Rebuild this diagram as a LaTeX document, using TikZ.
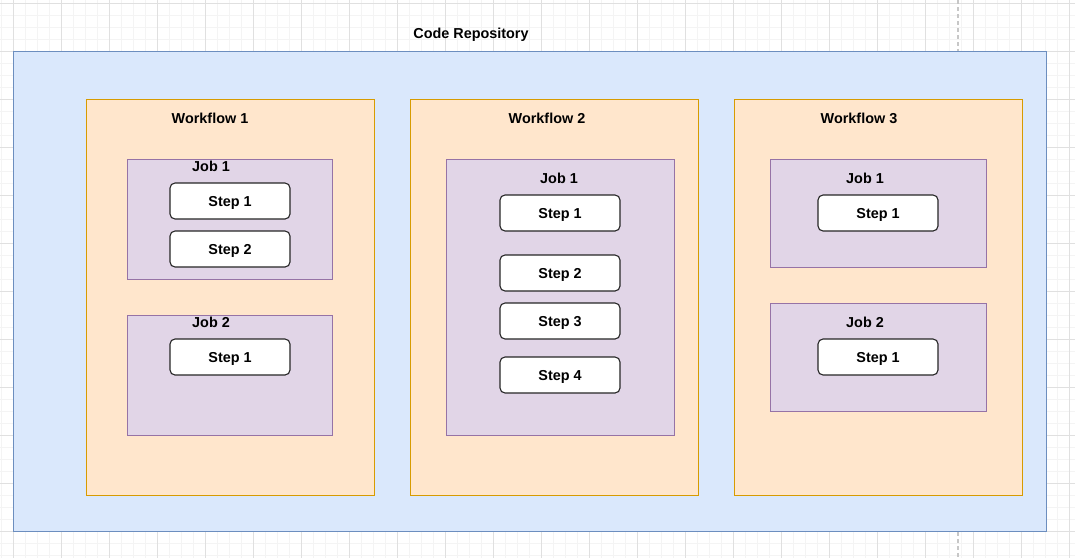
\documentclass[tikz,border=0pt]{standalone}
\usepackage{fontspec}
\setmainfont{Liberation Sans}

\definecolor{repofill}{HTML}{DAE8FC}
\definecolor{repoline}{HTML}{6C8EBF}
\definecolor{wffill}{HTML}{FFE6CC}
\definecolor{wfline}{HTML}{D79B00}
\definecolor{jobfill}{HTML}{E1D5E7}
\definecolor{jobline}{HTML}{9673A6}
\definecolor{gridminor}{HTML}{F4F4F4}
\definecolor{gridmajor}{HTML}{E0E0E0}

\tikzset{
  repobox/.style={draw=repoline, fill=repofill, line width=1pt, anchor=north west, inner sep=0pt},
  wfbox/.style={draw=wfline, fill=wffill, line width=1pt, anchor=north west, inner sep=0pt,
    minimum width=288, minimum height=396},
  jobbox/.style={draw=jobline, fill=jobfill, line width=1pt, anchor=north west, inner sep=0pt},
  stepbox/.style={draw=black!85, fill=white, line width=1.1pt, rounded corners=5pt,
    minimum width=120, minimum height=36, inner sep=0pt, text depth=0pt,
    font=\fontsize{14.4}{17}\selectfont\bfseries},
  title/.style={inner sep=0pt, yshift=-1.5pt, font=\fontsize{14.4}{17}\selectfont\bfseries}
}

\begin{document}
\begin{tikzpicture}[x=1pt, y=-1pt]

    \useasboundingbox (0,0) rectangle (1075,558);
    \fill[white] (0,0) rectangle (1075,558);

    % Background grid (minor and major lines)
    \foreach \x in {1,13,...,1069} \draw[gridminor, line width=0.8pt] (\x,0) -- (\x,558);
    \foreach \y in {3,15,...,555} \draw[gridminor, line width=0.8pt] (0,\y) -- (1075,\y);
    \foreach \x in {13,61,...,1069} \draw[gridmajor, line width=0.8pt] (\x,0) -- (\x,558);
    \foreach \y in {3,51,...,531} \draw[gridmajor, line width=0.8pt] (0,\y) -- (1075,\y);

    % Page break marker
    \coordinate (pagetop) at (958,0);
    \coordinate (pagebottom) at (958,558);
    \draw[black!22, line width=1.2pt, dash pattern=on 4pt off 3pt] (pagetop) -- (pagebottom);

    % Code repository
    \node[repobox, minimum width=1033, minimum height=480] (repo) at (13,51) {};
    \node[title] (repotitle) at (471,33) {Code Repository};

    % Workflow 1
    \node[wfbox] (wf1) at (86,99) {};
    \node[title] (wf1title) at (210,117) {Workflow 1};

    \node[jobbox, minimum width=205, minimum height=120] (wf1job1) at (127,159) {};
    \node[title] (wf1job1title) at (211,165) {Job 1};
    \node[stepbox] (wf1job1step1) at (230,201) {Step 1};
    \node[stepbox] (wf1job1step2) at (230,249) {Step 2};

    \node[jobbox, minimum width=205, minimum height=120] (wf1job2) at (127,315) {};
    \node[title] (wf1job2title) at (211,321) {Job 2};
    \node[stepbox] (wf1job2step1) at (230,357) {Step 1};

    % Workflow 2
    \node[wfbox] (wf2) at (410,99) {};
    \node[title] (wf2title) at (547,117) {Workflow 2};

    \node[jobbox, minimum width=228, minimum height=276] (wf2job1) at (446,159) {};
    \node[title] (wf2job1title) at (559,177) {Job 1};
    \node[stepbox] (wf2job1step1) at (560,213) {Step 1};
    \node[stepbox] (wf2job1step2) at (560,273) {Step 2};
    \node[stepbox] (wf2job1step3) at (560,321) {Step 3};
    \node[stepbox] (wf2job1step4) at (560,375) {Step 4};

    % Workflow 3
    \node[wfbox] (wf3) at (734,99) {};
    \node[title] (wf3title) at (859,117) {Workflow 3};

    \node[jobbox, minimum width=216, minimum height=108] (wf3job1) at (770,159) {};
    \node[title] (wf3job1title) at (865,177) {Job 1};
    \node[stepbox] (wf3job1step1) at (878,213) {Step 1};

    \node[jobbox, minimum width=216, minimum height=108] (wf3job2) at (770,303) {};
    \node[title] (wf3job2title) at (865,321) {Job 2};
    \node[stepbox] (wf3job2step1) at (878,357) {Step 1};

\end{tikzpicture}
\end{document}
